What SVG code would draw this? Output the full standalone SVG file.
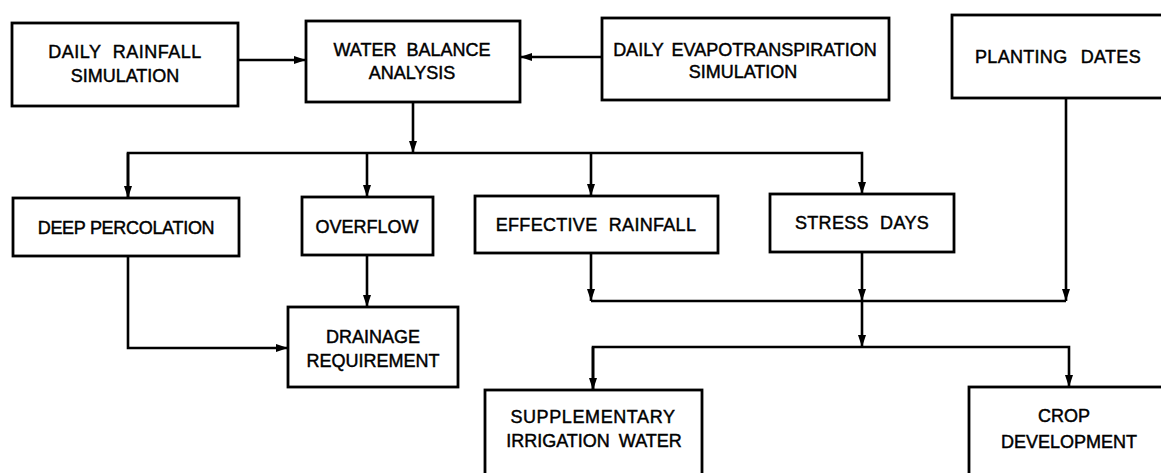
<svg xmlns="http://www.w3.org/2000/svg" width="1161" height="473" viewBox="0 0 1161 473">
<defs>
<marker id="ah" viewBox="0 0 12 8" refX="12" refY="4" markerWidth="12" markerHeight="8" markerUnits="userSpaceOnUse" orient="auto">
<path d="M0,0 L12,4 L0,8 Z" fill="#000"/>
</marker>
<style>
rect.box{fill:#fff;stroke:#000;stroke-width:2.8}
text{font-family:"Liberation Sans",Arial,sans-serif;font-size:18px;fill:#000;stroke:#000;stroke-width:0.45;text-anchor:middle}
#connectors path{fill:none;stroke:#000;stroke-width:2.6}
</style>
</defs>
<rect width="1161" height="473" fill="#fff"/>
<g id="connectors">
<path d="M238,60 H306" marker-end="url(#ah)"/>
<path d="M602,57 H520" marker-end="url(#ah)"/>
<path d="M413,102 V153" marker-end="url(#ah)"/>
<path d="M128,198 V153 H862 V194" marker-end="url(#ah)"/>
<path d="M128,153 V198" marker-end="url(#ah)"/>
<path d="M367,153 V197" marker-end="url(#ah)"/>
<path d="M591,153 V196" marker-end="url(#ah)"/>
<path d="M128,256 V348 H288" marker-end="url(#ah)"/>
<path d="M367,255 V307" marker-end="url(#ah)"/>
<path d="M591,253 V301" marker-end="url(#ah)"/>
<path d="M862,252 V301" marker-end="url(#ah)"/>
<path d="M1066,98 V301" marker-end="url(#ah)"/>
<path d="M591,301 H1066"/>
<path d="M862,301 V347" marker-end="url(#ah)"/>
<path d="M593,390 V347 H1069 V387" marker-end="url(#ah)"/>
<path d="M593,347 V390" marker-end="url(#ah)"/>
</g>
<g id="rainfall">
<rect class="box" x="12" y="23" width="226" height="83"/>
<text x="125" y="58" word-spacing="6" letter-spacing="0.5">DAILY RAINFALL</text>
<text x="125" y="82">SIMULATION</text>
</g>
<g id="waterbalance">
<rect class="box" x="306" y="21" width="214" height="81"/>
<text x="412" y="56" word-spacing="5">WATER BALANCE</text>
<text x="412" y="79">ANALYSIS</text>
</g>
<g id="evapo">
<rect class="box" x="602" y="18" width="287" height="82"/>
<text x="745" y="56" word-spacing="3">DAILY EVAPOTRANSPIRATION</text>
<text x="743" y="78">SIMULATION</text>
</g>
<g id="planting">
<rect class="box" x="952" y="15" width="215" height="83"/>
<text x="1058" y="63" word-spacing="8" letter-spacing="0.3">PLANTING DATES</text>
</g>
<g id="deeppercolation">
<rect class="box" x="13" y="198" width="226" height="58"/>
<text x="126" y="234" letter-spacing="-0.3">DEEP PERCOLATION</text>
</g>
<g id="overflow">
<rect class="box" x="302" y="197" width="131" height="58"/>
<text x="367" y="233">OVERFLOW</text>
</g>
<g id="effectiverainfall">
<rect class="box" x="475" y="196" width="243" height="57"/>
<text x="596" y="231" word-spacing="6" letter-spacing="0.3">EFFECTIVE RAINFALL</text>
</g>
<g id="stressdays">
<rect class="box" x="770" y="194" width="184" height="58"/>
<text x="862" y="229" word-spacing="6" letter-spacing="0.3">STRESS DAYS</text>
</g>
<g id="drainage">
<rect class="box" x="288" y="307" width="170" height="80"/>
<text x="373" y="343">DRAINAGE</text>
<text x="373" y="367">REQUIREMENT</text>
</g>
<g id="supplementary">
<rect class="box" x="485" y="390" width="217" height="95"/>
<text x="593" y="423" letter-spacing="0.6">SUPPLEMENTARY</text>
<text x="594" y="447" word-spacing="4">IRRIGATION WATER</text>
</g>
<g id="crop">
<rect class="box" x="969" y="387" width="205" height="98"/>
<text x="1064" y="422">CROP</text>
<text x="1069" y="448">DEVELOPMENT</text>
</g>
</svg>
